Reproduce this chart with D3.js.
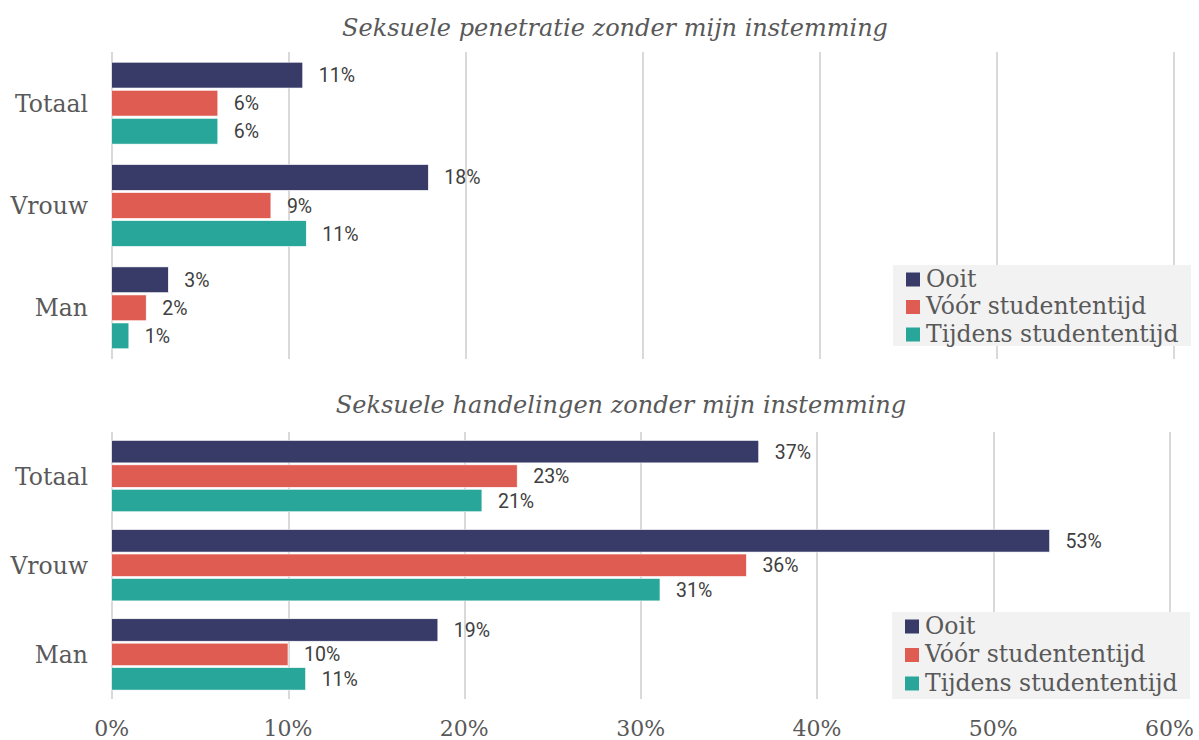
<!DOCTYPE html>
<html>
<meta charset="utf-8">
<style>
body { margin: 0; background: #fff; }
.grid line { stroke: #d9d9d9; stroke-width: 2; shape-rendering: crispEdges; }
.grid path { display: none; }
.cat { font: 23.5px "DejaVu Serif", serif; fill: #595959; }
.title { font: italic 24px "DejaVu Serif", serif; fill: #595959; }
.val { font: 19.5px Roboto, sans-serif; fill: #404040; }
.leg { font: 23.5px "DejaVu Serif", serif; fill: #595959; }
.tick-lab { font: 22px "DejaVu Serif", serif; fill: #595959; }
</style>
<body>
<script src="https://cdnjs.cloudflare.com/ajax/libs/d3/7.8.5/d3.min.js"></script>
<script>
// categories and series
var categories = ["Totaal", "Vrouw", "Man"];
var series = ["Ooit", "Vóór studententijd", "Tijdens studententijd"];
var ticks = [0, 10, 20, 30, 40, 50, 60];

// Seksuele penetratie zonder mijn instemming (%)
var penOoit = [10.8, 17.9, 3.2];
var penVoor = [6.0, 9.0, 1.95];
var penTijdens = [6.0, 11.0, 0.97];

// Seksuele handelingen zonder mijn instemming (%)
var hanOoit = [36.7, 53.2, 18.5];
var hanVoor = [23.0, 36.0, 10.0];
var hanTijdens = [21.0, 31.1, 11.0];

var color = d3.scaleOrdinal().domain(series).range(["#383b68", "#de5c51", "#29a69a"]);

var width = 1199, height = 740;
var svg = d3.select("body").append("svg")
    .attr("width", width)
    .attr("height", height);

var panels = [
  { title: "Seksuele penetratie zonder mijn instemming", titleX: 615, titleY: 36,
    values: [penOoit, penVoor, penTijdens], top: 52, bottom: 359, right: 1173,
    legend: { x: 893, y: 265, w: 298, h: 81, row: 27.5 }, axis: false },
  { title: "Seksuele handelingen zonder mijn instemming", titleX: 621, titleY: 413,
    values: [hanOoit, hanVoor, hanTijdens], top: 431.5, bottom: 699, right: 1169.5,
    legend: { x: 892, y: 612, w: 298, h: 87, row: 28.5 }, axis: true }
];

panels.forEach(function(p) {
  var x = d3.scaleLinear().domain([0, 60]).range([111.7, p.right]);
  var y0 = d3.scaleBand().domain(categories).range([p.top, p.bottom])
      .paddingInner(0.2).paddingOuter(0.1);
  var y1 = d3.scaleBand().domain(series).range([0, y0.bandwidth()]).paddingInner(0.08);

  var g = svg.append("g");

  // gridlines
  g.append("g")
      .attr("class", "grid")
      .attr("transform", "translate(0," + p.bottom + ")")
      .call(d3.axisBottom(x).tickValues(ticks).tickSize(-(p.bottom - p.top)).tickFormat(""));

  // title
  g.append("text")
      .attr("class", "title")
      .attr("x", p.titleX)
      .attr("y", p.titleY)
      .attr("text-anchor", "middle")
      .text(p.title);

  // category labels
  g.selectAll(".cat")
      .data(categories)
    .enter().append("text")
      .attr("class", "cat")
      .attr("x", 88)
      .attr("y", function(d) { return y0(d) + y0.bandwidth() / 2; })
      .attr("dy", "0.36em")
      .attr("text-anchor", "end")
      .text(function(d) { return d; });

  // bars
  var rows = [];
  categories.forEach(function(c, i) {
    series.forEach(function(s, j) {
      rows.push({ cat: c, ser: s, v: p.values[j][i] });
    });
  });

  g.selectAll(".bar")
      .data(rows)
    .enter().append("rect")
      .attr("class", "bar")
      .attr("x", x(0))
      .attr("y", function(d) { return y0(d.cat) + y1(d.ser); })
      .attr("width", function(d) { return x(d.v) - x(0); })
      .attr("height", y1.bandwidth())
      .style("fill", function(d) { return color(d.ser); })
      .style("stroke", "#fff")
      .style("stroke-width", 0.6);

  g.selectAll(".val")
      .data(rows)
    .enter().append("text")
      .attr("class", "val")
      .attr("x", function(d) { return x(d.v) + 16; })
      .attr("y", function(d) { return y0(d.cat) + y1(d.ser) + y1.bandwidth() / 2; })
      .attr("dy", "0.36em")
      .text(function(d) { return Math.round(d.v) + "%"; });

  // legend
  var L = p.legend;
  g.append("rect")
      .attr("x", L.x).attr("y", L.y)
      .attr("width", L.w).attr("height", L.h)
      .style("fill", "#f2f2f2");

  var leg = g.selectAll(".legend")
      .data(series)
    .enter().append("g")
      .attr("transform", function(d, i) { return "translate(" + (L.x + 13) + "," + (L.y + 7.5 + i * L.row) + ")"; });

  leg.append("rect")
      .attr("width", 14).attr("height", 14)
      .style("fill", color);

  leg.append("text")
      .attr("class", "leg")
      .attr("x", 20)
      .attr("y", 14)
      .text(function(d) { return d; });

  // x axis labels only under the lower panel
  if (p.axis) {
    g.selectAll(".tick-lab")
        .data(ticks)
      .enter().append("text")
        .attr("class", "tick-lab")
        .attr("x", function(d) { return x(d); })
        .attr("y", 736)
        .attr("text-anchor", "middle")
        .text(function(d) { return d + "%"; });
  }
});
</script>
</body>
</html>
